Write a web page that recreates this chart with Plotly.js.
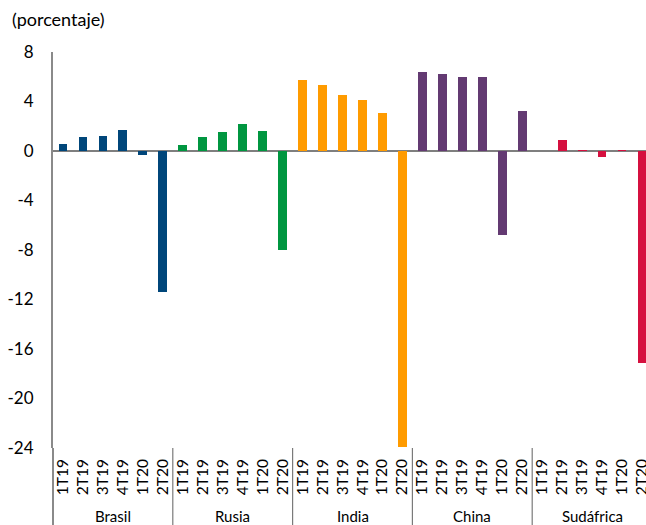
<!DOCTYPE html>
<html>
<head>
<meta charset="utf-8">
<script src="https://cdn.plot.ly/plotly-3.0.1.min.js"></script>
<style>
  html, body { margin: 0; padding: 0; background: #fff; overflow: hidden; }
  #chart { width: 652px; height: 525px; }
</style>
</head>
<body>
<div id="chart"></div>
<script>
// Quarterly GDP growth, year-on-year, BRICS economies
const countries = ["Brasil", "Rusia", "India", "China", "Sudáfrica"];
const quarters = ["1T19", "2T19", "3T19", "4T19", "1T20", "2T20"];
const colors = ["#00467a", "#009640", "#ff9b00", "#633a72", "#d5103f"];

const brasil    = [0.6, 1.1, 1.2, 1.7, -0.3, -11.4];
const rusia     = [0.5, 1.1, 1.5, 2.2, 1.6, -8.0];
const india     = [5.7, 5.3, 4.5, 4.1, 3.1, -23.9];
const china     = [6.4, 6.2, 6.0, 6.0, -6.8, 3.2];
const sudafrica = [0.0, 0.9, 0.1, -0.5, 0.1, -17.1];

const yTicks = [8, 4, 0, -4, -8, -12, -16, -20, -24];

const series = [brasil, rusia, india, china, sudafrica];
const nq = quarters.length;

const traces = series.map((vals, g) => ({
  type: "bar",
  name: countries[g],
  x: quarters.map((_, q) => g * nq + q),
  y: vals,
  width: 0.44,
  marker: { color: colors[g] },
  hoverinfo: "skip"
}));

const tickvals = [];
const ticktext = [];
countries.forEach((c, g) => quarters.forEach((q, i) => {
  tickvals.push(g * nq + i);
  ticktext.push(q);
}));

const font = "Lato, 'Open Sans', sans-serif";
const axisGray = "#8a8a8a";

// group separators below the plot
const shapes = [];
for (let g = 1; g < countries.length; g++) {
  shapes.push({
    type: "line", xref: "x", yref: "paper",
    x0: g * nq - 0.5, x1: g * nq - 0.5, y0: 0, y1: -0.22,
    line: { color: "#7a7a7a", width: 1.2 }
  });
}
// y-axis line continues down through the label area
shapes.push({
  type: "line", xref: "paper", yref: "paper",
  x0: 0, x1: 0, y0: 0, y1: -0.22,
  line: { color: axisGray, width: 2 }
});

// country names under each group of quarters
const annotations = countries.map((c, g) => ({
  text: c, xref: "x", yref: "paper",
  x: g * nq + (nq - 1) / 2, y: -0.172,
  xanchor: "center", yanchor: "middle",
  showarrow: false,
  font: { family: font, size: 15, color: "#000" }
}));

const layout = {
  width: 652, height: 525,
  margin: { l: 53, r: 0, t: 52, b: 77 },
  paper_bgcolor: "#fff", plot_bgcolor: "#fff",
  showlegend: false,
  bargap: 0,
  title: {
    text: "(porcentaje)",
    xref: "container", yref: "container",
    x: 12 / 652, xanchor: "left",
    y: 1 - 20 / 525, yanchor: "middle",
    font: { family: font, size: 18, color: "#000" }
  },
  xaxis: {
    range: [-0.5, 29.5],
    tickmode: "array", tickvals: tickvals, ticktext: ticktext,
    tickangle: -90,
    ticks: "", showgrid: false, zeroline: false, showline: false,
    ticklabelstandoff: 7,
    tickfont: { family: font, size: 15.5, color: "#000" },
    fixedrange: true
  },
  yaxis: {
    range: [-24, 8],
    tickmode: "array", tickvals: yTicks, ticktext: yTicks.map(String),
    ticks: "", showgrid: false,
    showline: true, linecolor: axisGray, linewidth: 2,
    zeroline: true, zerolinecolor: "#7f7f7f", zerolinewidth: 2,
    ticklabelstandoff: 14,
    tickfont: { family: font, size: 17, color: "#000" },
    fixedrange: true
  },
  shapes: shapes,
  annotations: annotations
};

Plotly.newPlot("chart", traces, layout, { displayModeBar: false, staticPlot: true });
</script>
</body>
</html>
